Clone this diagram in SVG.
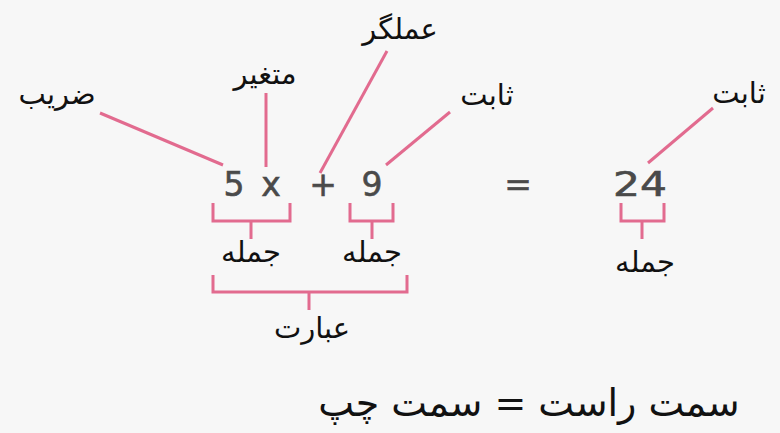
<svg xmlns="http://www.w3.org/2000/svg" width="780" height="433" viewBox="0 0 780 433">
<style>
.bg{fill:#f7f7f7}
.ln{stroke:#e26b8f;stroke-width:3;fill:none;stroke-linecap:butt}
.lbl{font-family:"DejaVu Sans","Noto Sans",sans-serif;font-size:29px;fill:#111;text-anchor:middle}
.num{font-family:"DejaVu Sans","Open Sans",sans-serif;font-size:33px;fill:#4a4a4a;stroke:#4a4a4a;stroke-width:0.6;text-anchor:middle}
</style>
<rect class="bg" x="0" y="0" width="780" height="433"/>
<g id="connectors">
<line class="ln" x1="100" y1="113" x2="223" y2="165"/>
<line class="ln" x1="266" y1="93" x2="266" y2="167"/>
<line class="ln" x1="387" y1="51" x2="320" y2="173"/>
<line class="ln" x1="450" y1="112" x2="386" y2="165"/>
<line class="ln" x1="713" y1="108" x2="648" y2="163"/>
<path class="ln" d="M213,203 V221 H290 V203 M251,221 V239"/>
<path class="ln" d="M350,203 V221 H393 V203 M372,221 V239"/>
<path class="ln" d="M621,203 V221 H664 V203 M642,221 V239"/>
<path class="ln" d="M213,275 V292 H407 V275 M309,292 V310"/>
</g>
<g id="eq">
<text class="num" x="234" y="196">5</text>
<text class="num" x="271" y="196">x</text>
<text class="num" x="323" y="196">+</text>
<text class="num" x="372" y="196">9</text>
<text class="num" x="518" y="196">=</text>
<text class="num" x="640" y="196" textLength="54" lengthAdjust="spacingAndGlyphs">24</text>
</g>
<g id="n-zarib"><text class="lbl" x="57" y="104">ضریب</text></g>
<g id="n-motaghayer"><text class="lbl" x="265" y="84">متغیر</text></g>
<g id="n-amalgar"><text class="lbl" x="400" y="39">عملگر</text></g>
<g id="n-sabet1"><text class="lbl" x="487" y="105">ثابت</text></g>
<g id="n-sabet2"><text class="lbl" x="739" y="103">ثابت</text></g>
<g id="n-jomle1"><text class="lbl" x="251" y="262">جمله</text></g>
<g id="n-jomle2"><text class="lbl" x="372" y="262">جمله</text></g>
<g id="n-jomle3"><text class="lbl" x="645" y="272">جمله</text></g>
<g id="n-ebarat"><text class="lbl" x="312" y="338">عبارت</text></g>
<g id="n-bottom"><text class="lbl" x="529" y="416" style="font-size:38px">سمت راست = سمت چپ</text></g>
</svg>
